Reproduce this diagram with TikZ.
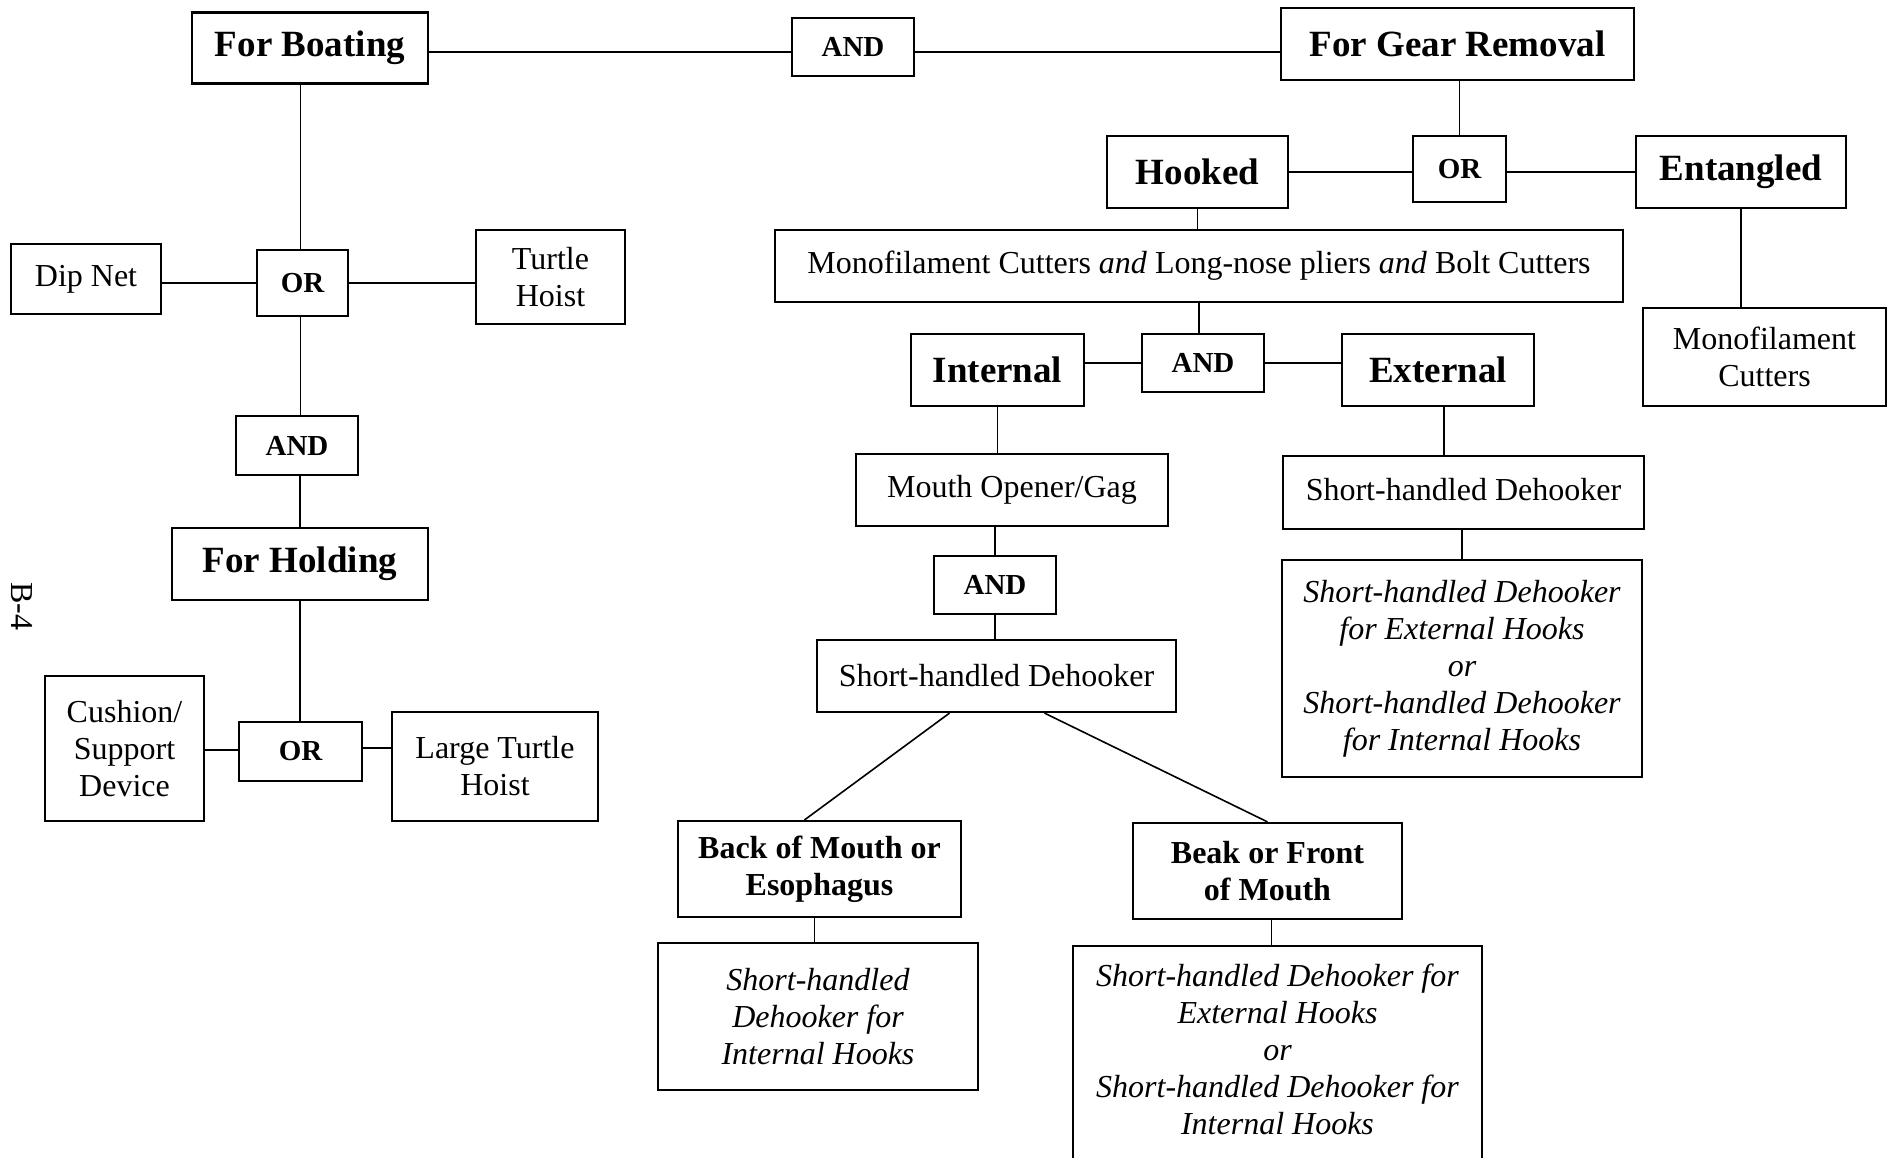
\documentclass[tikz,border=0pt]{standalone}
\usepackage{fontspec}
\setmainfont{Liberation Serif}
\begin{document}
\begin{tikzpicture}[x=1pt, y=-1pt,
	box/.style={draw, line width=2.2pt, inner sep=0pt, align=center},
	title/.style={box, font=\fontsize{37}{44}\selectfont\bfseries},
	gate/.style={box, font=\fontsize{29}{34}\selectfont\bfseries},
	item/.style={box, font=\fontsize{32}{37}\selectfont},
	case/.style={box, font=\fontsize{32}{37}\selectfont\bfseries},
	link/.style={line width=1.6pt}]
		\useasboundingbox (0,0) rectangle (1895,1158);
		
		\node[title, minimum width=236, minimum height=71] (boating) at (310,48) {For Boating};
		\node[gate, minimum width=122, minimum height=58] (andtop) at (853,47) {AND};
		\node[title, minimum width=353, minimum height=72] (gear) at (1457.5,44) {For Gear Removal};
		\node[gate, minimum width=93, minimum height=66] (orgear) at (1459.5,169) {OR};
		\node[title, minimum width=181, minimum height=72] (hooked) at (1197.5,172) {Hooked};
		\node[title, minimum width=210, minimum height=72] (entangled) at (1741,172) {Entangled};
		\node[item, minimum width=848, minimum height=72] (tools) at (1199,266) {Monofilament Cutters \textit{and} Long-nose pliers \textit{and} Bolt Cutters};
		\node[gate, minimum width=122, minimum height=58] (andmid) at (1203,363) {AND};
		\node[title, minimum width=173, minimum height=72] (internal) at (997.5,370) {Internal};
		\node[title, minimum width=192, minimum height=72] (external) at (1438,370) {External};
		\node[item, minimum width=243, minimum height=98] (monocut) at (1764.5,357) {Monofilament\\Cutters};
		\node[item, minimum width=312, minimum height=72] (gag) at (1012,490) {Mouth Opener/Gag};
		\node[gate, minimum width=122, minimum height=58] (andlow) at (995,585) {AND};
		\node[item, minimum width=359, minimum height=72] (dehookint) at (996.5,676) {Short-handled Dehooker};
		\node[item, minimum width=361, minimum height=73] (dehookext) at (1463.5,492.5) {Short-handled Dehooker\rule[-6pt]{0pt}{6pt}};
		\node[item, minimum width=360, minimum height=217, font=\fontsize{32}{37}\selectfont\itshape] (extitalic) at (1462,668.5) {Short-handled Dehooker\\for External Hooks\\or\\Short-handled Dehooker\\for Internal Hooks};
		\node[case, minimum width=283, minimum height=96] (back) at (819.5,869) {Back of Mouth or\\Esophagus};
		\node[case, minimum width=269, minimum height=96] (beak) at (1267.5,871) {Beak or Front\\of Mouth};
		\node[item, minimum width=320, minimum height=147, font=\fontsize{32}{37}\selectfont\itshape] (backitalic) at (818,1016.5) {Short-handled\\Dehooker for\\Internal Hooks};
		\node[item, minimum width=409, minimum height=220, anchor=north, font=\fontsize{32}{37}\selectfont\itshape] (beakitalic) at (1277.5,945) {Short-handled Dehooker for\\External Hooks\\or\\Short-handled Dehooker for\\Internal Hooks\rule[-14pt]{0pt}{14pt}};
		
		\node[gate, minimum width=91, minimum height=66] (ordip) at (302.5,283) {OR};
		\node[item, minimum width=150, minimum height=70] (dipnet) at (86,279) {Dip Net};
		\node[item, minimum width=149, minimum height=94] (turtle) at (550.5,277) {Turtle\\Hoist};
		\node[gate, minimum width=122, minimum height=59] (andleft) at (297,445.5) {AND};
		\node[title, minimum width=256, minimum height=72] (holding) at (300,564) {For Holding};
		\node[gate, minimum width=123, minimum height=59] (orhold) at (300.5,751.5) {OR};
		\node[item, minimum width=159, minimum height=145] (cushion) at (124.5,748.5) {Cushion/\\Support\\Device};
		\node[item, minimum width=206, minimum height=109] (bigturtle) at (495,766.5) {Large Turtle\\Hoist};
		\node[font=\fontsize{32}{37}\selectfont, rotate=-90] (page) at (22,606) {B-4};
		
		\draw[link] ([yshift=-5pt]andtop.west) -- ([yshift=-5pt]andtop.west -| boating.east);
		\draw[link] ([yshift=-5pt]andtop.east) -- ([yshift=-5pt]andtop.east -| gear.west);
		\draw[link] (gear.south -| orgear.north) -- (orgear.north);
		\draw[link] (orgear.west |- hooked.east) -- (hooked.east);
		\draw[link] (orgear.east |- entangled.west) -- (entangled.west);
		\draw[link] (hooked.south) -- (hooked.south |- tools.north);
		\draw[link] (tools.south) -- (tools.south |- andmid.north);
		\draw[link] (andmid.west) -- (andmid.west -| internal.east);
		\draw[link] (andmid.east) -- (andmid.east -| external.west);
		\draw[link] (entangled.south) -- (entangled.south |- monocut.north);
		\draw[link] (internal.south) -- (internal.south |- gag.north);
		\draw[link] (andlow.north) -- (andlow.north |- gag.south);
		\draw[link] (andlow.south) -- (andlow.south |- dehookint.north);
		\draw[link] ([xshift=6pt]external.south) -- ([xshift=6pt]external.south |- dehookext.north);
		\draw[link] (extitalic.north) -- (extitalic.north |- dehookext.south);
		\draw[link] ([xshift=-47pt]dehookint.south) -- ([xshift=-15pt]back.north);
		\draw[link] ([xshift=48pt]dehookint.south) -- (beak.north);
		\draw[link] ([xshift=-5pt]back.south) -- ([xshift=-5pt]back.south |- backitalic.north);
		\draw[link] ([xshift=4pt]beak.south) -- ([xshift=4pt]beak.south |- beakitalic.north);
		
		\draw[link] ([xshift=-2pt]boating.south -| ordip.north) -- ([xshift=-2pt]ordip.north);
		\draw[link] (ordip.west) -- (ordip.west -| dipnet.east);
		\draw[link] (ordip.east) -- (ordip.east -| turtle.west);
		\draw[link] ([xshift=-2pt]ordip.south) -- ([xshift=-2pt]ordip.south |- andleft.north);
		\draw[link] (andleft.south -| holding.north) -- (holding.north);
		\draw[link] (holding.south) -- (holding.south |- orhold.north);
		\draw[link] ([yshift=1.5pt]orhold.west) -- ([yshift=1.5pt]orhold.west -| cushion.east);
		\draw[link] ([yshift=3.5pt]orhold.east) -- ([yshift=3.5pt]orhold.east -| bigturtle.west);
	\end{tikzpicture}
\end{document}
